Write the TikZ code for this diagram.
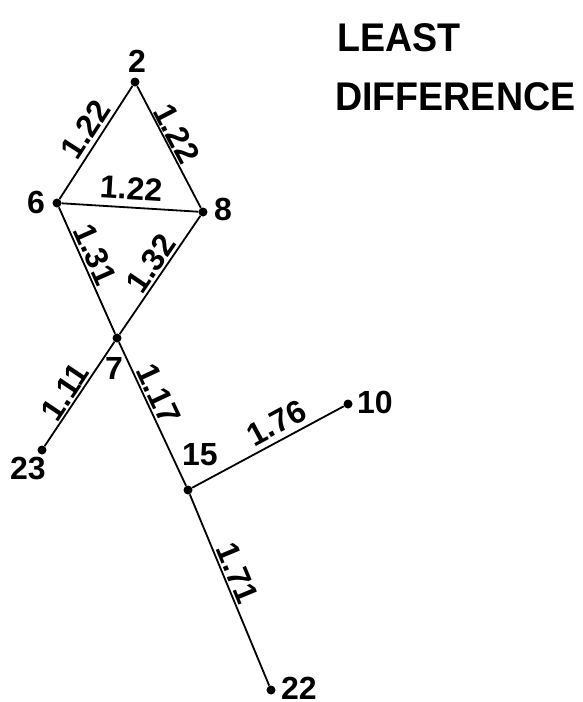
\documentclass[tikz,border=0pt]{standalone}
\usepackage{fontspec}
\setmainfont{Liberation Sans}
\begin{document}
\begin{tikzpicture}[x=1pt,y=-1pt,
  dot/.style={circle,fill=black,inner sep=0pt,minimum size=9pt},
  conn/.style={line width=1.8pt},
  lbl/.style={font=\fontsize{32}{32}\selectfont\bfseries,inner sep=0pt},
  elbl/.style={font=\fontsize{32}{32}\selectfont\bfseries,inner sep=2pt,sloped,above},
  ttl/.style={font=\fontsize{40}{40}\selectfont\bfseries,inner sep=0pt,anchor=west,xscale=0.94}]
\useasboundingbox (0,0) rectangle (583,702);
% nodes
\node[dot] (n2) at (135,82) {};
\node[dot] (n6) at (57,203) {};
\node[dot] (n8) at (203,212) {};
\node[dot] (n7) at (117,338) {};
\node[dot] (n23) at (42,450) {};
\node[dot] (n15) at (188,490) {};
\node[dot] (n10) at (348,404) {};
\node[dot] (n22) at (271,690) {};
% node labels
\node[lbl] (l2) at (137,61) {2};
\node[lbl] (l6) at (36,202) {6};
\node[lbl] (l8) at (223,209) {8};
\node[lbl] (l7) at (114,368) {7};
\node[lbl] (l23) at (28,469) {23};
\node[lbl] (l15) at (200,455) {15};
\node[lbl] (l10) at (375,402) {10};
\node[lbl] (l22) at (299,688) {22};
% connectors with their labels
\draw[conn] (n6) -- node[elbl,pos=0.54,inner sep=4pt] (e26) {1.22} (n2);
\draw[conn] (n2) -- node[elbl,pos=0.44,inner sep=1pt] (e28) {1.22} (n8);
\draw[conn] (n6) -- node[elbl,pos=0.50,inner sep=7pt] (e68) {1.22} (n8);
\draw[conn] (n6) -- node[elbl,pos=0.42] (e67) {1.31} (n7);
\draw[conn] (n7) -- node[elbl,pos=0.53] (e87) {1.32} (n8);
\draw[conn] (n23) -- node[elbl,pos=0.45,inner sep=1.5pt] (e723) {1.11} (n7);
\draw[conn] (n7) -- node[elbl,pos=0.40] (e715) {1.17} (n15);
\draw[conn] (n15) -- node[elbl,pos=0.61,inner sep=5pt] (e1510) {1.76} (n10);
\draw[conn] (n15) -- node[elbl,pos=0.44] (e1522) {1.71} (n22);
% title
\node[ttl] (t1) at (337,38) {LEAST};
\node[ttl] (t2) at (335,97) {DIFFERENCE};
\end{tikzpicture}
\end{document}
